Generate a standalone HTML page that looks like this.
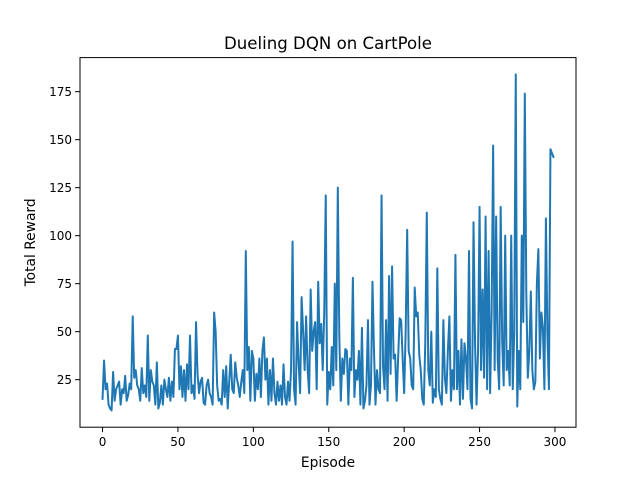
<!DOCTYPE html>
<html><head><meta charset="utf-8"><style>
body{margin:0;background:#fff;}
svg text{font-family:"DejaVu Sans","Liberation Sans",sans-serif;fill:#000;}
</style></head><body>
<svg id="chart" width="640" height="480" viewBox="0 0 640 480">
<rect width="640" height="480" fill="#fff"/>
<text x="328" y="49" font-size="16.6" text-anchor="middle">Dueling DQN on CartPole</text>
<g id="plot"></g>
<text x="328" y="467" font-size="13.8" text-anchor="middle">Episode</text>
<text transform="translate(35,242.4) rotate(-90)" font-size="13.8" text-anchor="middle">Total Reward</text>
</svg>
<script>
const rewards = [
15,35,20,23,12,10,9,29,14,20,22,24,12,20,18,27,14,17,23,20,
58,26,30,22,20,14,31,18,22,16,48,14,30,24,22,12,34,10,13,22,
12,25,20,16,26,14,24,16,41,41,48,20,32,16,30,14,33,20,48,18,
22,15,55,28,18,24,26,13,12,22,25,18,16,12,60,50,22,14,15,12,
30,16,32,10,24,38,20,18,34,26,22,16,24,30,18,92,30,42,14,40,
36,14,28,20,36,16,40,47,25,36,12,30,14,36,18,12,24,14,22,12,
33,16,12,24,14,30,97,20,12,55,34,18,68,50,30,58,30,18,72,40,
50,55,20,76,44,54,30,60,121,12,29,20,42,22,75,30,125,48,14,36,
28,41,40,12,36,30,78,16,30,25,40,12,52,10,14,22,56,12,22,76,
40,12,30,20,18,121,32,20,56,14,79,28,84,36,38,14,36,57,56,36,
18,50,103,40,36,22,20,73,58,60,38,30,15,12,44,112,30,22,50,13,
20,16,83,20,15,12,56,26,18,40,58,14,30,20,90,20,40,12,46,15,
44,36,20,92,15,10,107,44,12,40,
115,30,72,26,110,20,92,18,60,147,
30,110,36,20,115,45,22,100,30,40,
22,100,20,50,184,11,40,20,100,55,
174,70,26,40,71,30,20,24,75,93,
36,60,52,20,109,48,20,145,143,141
];
const xTicks = [0,50,100,150,200,250,300];
const yTicks = [25,50,75,100,125,150,175];

const L=80,R=576,T=57.6,B=427.2;
const n=rewards.length;
const xmin0=0,xmax0=n-1,xm=(xmax0-xmin0)*0.05;
const ymin0=Math.min(...rewards),ymax0=Math.max(...rewards),ym=(ymax0-ymin0)*0.05;
const xs=v=>L+(v-(xmin0-xm))/((xmax0+xm)-(xmin0-xm))*(R-L);
const ys=v=>B-(v-(ymin0-ym))/((ymax0+ym)-(ymin0-ym))*(B-T);
const NS="http://www.w3.org/2000/svg";
const g=document.getElementById('plot');
function mk(t,a){const e=document.createElementNS(NS,t);for(const k in a)e.setAttribute(k,a[k]);g.appendChild(e);return e;}

let d='';
rewards.forEach((v,i)=>{d+=(i?'L':'M')+xs(i).toFixed(2)+','+ys(v).toFixed(2);});
const line=mk('path',{d:d,fill:'none',stroke:'#1f77b4','stroke-width':2,'stroke-linejoin':'round','stroke-linecap':'square'});



const frame=mk('rect',{x:L,y:T,width:R-L,height:B-T,fill:'none',stroke:'#000','stroke-width':1});



xTicks.forEach(t=>{
 const x=xs(t);
 const tk=mk('line',{x1:x,x2:x,y1:B,y2:B+4.9,stroke:'#000','stroke-width':1});
 
 
 const tx=mk('text',{x:x,y:B+19,'font-size':12,'text-anchor':'middle'});
 tx.textContent=t;
 
 
});
yTicks.forEach(t=>{
 const y=ys(t);
 const tk=mk('line',{x1:L-4.9,x2:L,y1:y,y2:y,stroke:'#000','stroke-width':1});
 
 
 const tx=mk('text',{x:L-8,y:y+4.3,'font-size':12,'text-anchor':'end'});
 tx.textContent=t;
 
 
});
</script>
</body></html>
